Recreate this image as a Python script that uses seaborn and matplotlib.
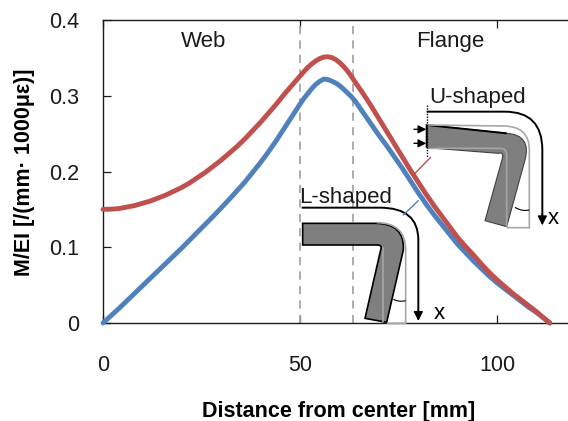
import matplotlib
matplotlib.use('Agg')
import matplotlib.pyplot as plt
import pandas as pd
import seaborn as sns
from matplotlib.patches import PathPatch
from matplotlib.path import Path

sns.set_theme(style='ticks')
plt.rcParams['font.family'] = ['Liberation Sans', 'DejaVu Sans']

# values
x_vals = [0, 2, 4, 6, 8, 10, 12, 14, 16, 18, 20, 22, 24, 26, 28, 30, 32, 34, 36, 38, 40, 42, 44, 46, 48, 50,
          51, 52, 53, 54, 55, 56, 57, 58, 59, 60, 61, 62, 63, 64,
          66, 68, 70, 72, 74, 76, 78, 80, 82, 84, 86, 88, 90, 92, 94, 96, 98, 100, 102, 104, 106, 108, 110, 112, 113.4]
y_red = [0.150, 0.1503, 0.151, 0.153, 0.155, 0.158, 0.161, 0.165, 0.169, 0.174, 0.179, 0.185, 0.192, 0.199, 0.207, 0.215, 0.224, 0.233, 0.243, 0.254, 0.265, 0.277, 0.289, 0.302, 0.314, 0.326,
         0.332, 0.3375, 0.342, 0.346, 0.349, 0.351, 0.3515, 0.3505, 0.348, 0.344, 0.339, 0.333, 0.326, 0.318,
         0.303, 0.287, 0.270, 0.253, 0.236, 0.219, 0.202, 0.186, 0.170, 0.155, 0.141, 0.127, 0.113, 0.101, 0.090, 0.078, 0.067, 0.057, 0.048, 0.039, 0.031, 0.023, 0.015, 0.006, 0.0]
y_blue = [0.0, 0.0095, 0.019, 0.029, 0.039, 0.049, 0.059, 0.069, 0.079, 0.089, 0.099, 0.1095, 0.120, 0.1305, 0.141, 0.152, 0.163, 0.1745, 0.186, 0.199, 0.212, 0.226, 0.241, 0.257, 0.273, 0.289,
          0.2965, 0.303, 0.3095, 0.315, 0.319, 0.322, 0.3215, 0.3195, 0.317, 0.3135, 0.309, 0.304, 0.299, 0.293,
          0.278, 0.263, 0.248, 0.234, 0.219, 0.204, 0.188, 0.172, 0.157, 0.143, 0.130, 0.117, 0.104, 0.093, 0.082, 0.072, 0.062, 0.053, 0.045, 0.037, 0.029, 0.021, 0.014, 0.006, 0.0]
region_edges = [50, 63.5]
x_ticks = [0, 50, 100]
y_ticks = [0, 0.1, 0.2, 0.3, 0.4]
y_tick_labels = ['0', '0.1', '0.2', '0.3', '0.4']

df = pd.concat([
    pd.DataFrame({'x': x_vals, 'y': y_red, 'shape': 'U-shaped'}),
    pd.DataFrame({'x': x_vals, 'y': y_blue, 'shape': 'L-shaped'}),
])

W, H = 568, 421
fig = plt.figure(figsize=(W / 100, H / 100), dpi=100)
# the right edge of the frame falls just outside the picture
ax = fig.add_axes([103 / W, 1 - 323 / H, 3.94 * 120 / W, 303 / H])

for v in region_edges:
    ax.axvline(v, color='#a6a6a6', lw=1.3, ls=(0, (4.5, 3.5)), zorder=1)

sns.lineplot(data=df, x='x', y='y', hue='shape', palette={'U-shaped': '#C0504D', 'L-shaped': '#4F81BD'},
             hue_order=['L-shaped', 'U-shaped'], estimator=None, sort=False, lw=3.5, legend=False, ax=ax, zorder=3, clip_on=False)

ax.set_xlim(0, 120)
ax.set_ylim(0, 0.4)
ax.set_xticks(x_ticks)
ax.set_yticks(y_ticks, y_tick_labels)
ax.tick_params(direction='in', length=5.5, width=0.9, top=True, right=True, labelsize=15.5, color='#1a1a1a', labelcolor='#1a1a1a')
ax.tick_params(axis='x', pad=23)
ax.tick_params(axis='y', pad=17)
for s in ax.spines.values():
    s.set_linewidth(1.0)
    s.set_color('#1a1a1a')
ax.set_xlabel('')
ax.set_ylabel('')

# overlay in picture pixels for labels and the little sketches
ov = fig.add_axes([0, 0, 1, 1], facecolor='none')
ov.set_xlim(0, W)
ov.set_ylim(H, 0)
ov.axis('off')


def z(pts):
    # coordinates taken from the 3x crop
    return [(290 + a / 3, 70 + b / 3) for a, b in pts]


def curve(pts, codes, closed=False, **kw):
    verts = z(pts)
    cc = [Path.MOVETO] + [{'L': Path.LINETO, 'C': Path.CURVE3}[c] for c in codes]
    if closed:
        verts = verts + [verts[0]]
        cc = cc + [Path.CLOSEPOLY]
    ov.add_patch(PathPatch(Path(verts, cc), **kw))


def arrow(start, end, size=14):
    ov.annotate('', xy=z([end])[0], xytext=z([start])[0],
                arrowprops=dict(arrowstyle='-|>', color='black', lw=1.0, mutation_scale=size, shrinkA=0, shrinkB=0))


ov.text(204, 47, 'Web', ha='center', va='baseline', fontsize=16, color='#1a1a1a')
ov.text(450, 47, 'Flange', ha='center', va='baseline', fontsize=16, color='#1a1a1a')
ov.text(478, 103, 'U-shaped', ha='center', va='baseline', fontsize=16, color='#1a1a1a')
ov.text(346, 203, 'L-shaped', ha='center', va='baseline', fontsize=16, color='#1a1a1a')
ov.text(553, 224, 'x', ha='center', va='baseline', fontsize=16, color='black')
ov.text(439, 319, 'x', ha='center', va='baseline', fontsize=16, color='black')
ov.text(339, 417, 'Distance from center [mm]', ha='center', va='baseline', fontsize=15.5, fontweight='bold', color='black')
ov.text(25, 172, 'M/EI [/(mm· 1000με)]', ha='center', va='center', rotation=90, fontsize=15.5, fontweight='bold', color='black')

# leader lines
ov.plot(*zip(*z([(370, 315), (422, 262)])), color='#C0504D', lw=1.0)
ov.plot(*zip(*z([(340, 435), (385, 392)])), color='#4F81BD', lw=1.0)

# U-shaped sketch
curve([(410, 165), (650, 190), (725, 195), (705, 270), (650, 470), (585, 452), (638, 262), (640, 245), (625, 250), (410, 233)],
      'LCCLLLCCL', closed=True, facecolor='#7f7f7f', edgecolor='#404040', lw=0.8)
curve([(410, 233), (410, 165), (650, 190)], 'LL', fill=False, edgecolor='black', lw=1.4)
curve([(410, 165), (640, 168), (718, 168), (718, 240), (718, 473), (650, 473)], 'LCCLL', fill=False, edgecolor='#a6a6a6', lw=1.2)
curve([(410, 235), (630, 235), (650, 235), (650, 255), (650, 470)], 'LCCL', fill=False, edgecolor='#a6a6a6', lw=1.2)
curve([(410, 125), (645, 125), (757, 125), (757, 240), (757, 445)], 'LCCL', fill=False, edgecolor='black', lw=1.4)
arrow((757, 430), (757, 466))
ov.plot(*zip(*z([(410, 105), (410, 262)])), color='black', lw=1.0, ls=(0, (1, 1)))
arrow((372, 178), (409, 178), 12)
arrow((372, 220), (409, 220), 12)
curve([(675, 412), (695, 425), (718, 420)], 'CC', fill=False, edgecolor='black', lw=0.8)

# L-shaped sketch
curve([(38, 460), (255, 460), (345, 460), (340, 540), (290, 757), (225, 745), (272, 540), (278, 525), (262, 525), (38, 525)],
      'LCCLLLCCL', closed=True, facecolor='#7f7f7f', edgecolor='black', lw=1.2)
curve([(260, 458), (347, 458), (347, 540), (347, 760), (290, 760)], 'CCLL', fill=False, edgecolor='#a6a6a6', lw=1.2)
curve([(280, 530), (280, 755)], 'L', fill=False, edgecolor='#a6a6a6', lw=1.2)
curve([(35, 413), (270, 413), (385, 413), (385, 510), (385, 735)], 'LCCL', fill=False, edgecolor='black', lw=1.4)
arrow((385, 718), (385, 753))
curve([(310, 688), (328, 697), (347, 692)], 'CC', fill=False, edgecolor='black', lw=0.8)

fig.savefig('out.png', dpi=100)
